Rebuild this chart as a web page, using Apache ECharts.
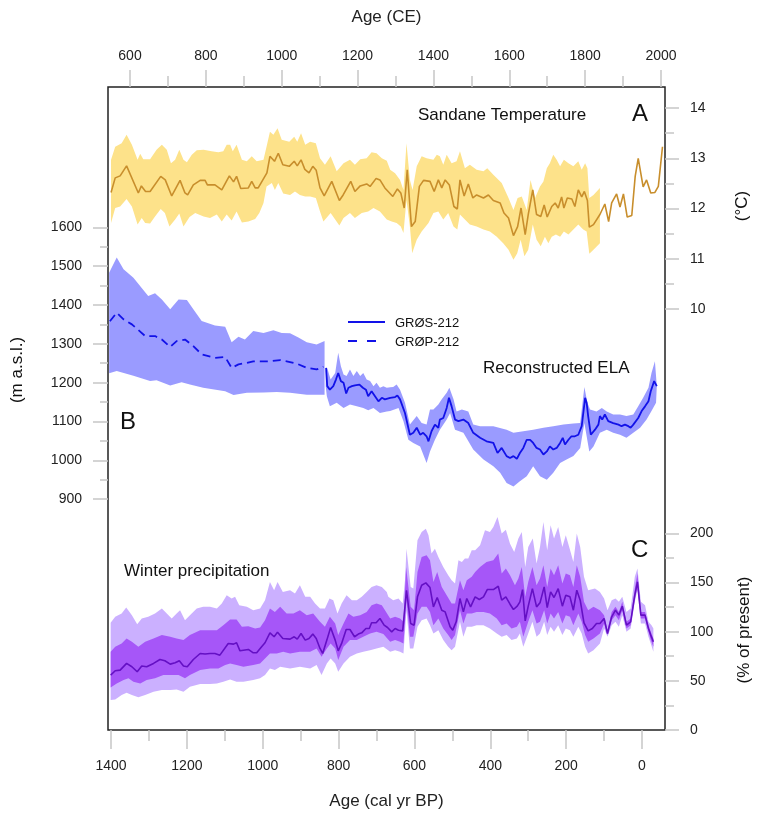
<!DOCTYPE html>
<html>
<head>
<meta charset="utf-8">
<script src="https://cdn.jsdelivr.net/npm/echarts@6.0.0/dist/echarts.min.js"></script>
<style>
  html, body { margin: 0; padding: 0; background: #fff; }
  #chart { width: 759px; height: 815px; }
</style>
</head>
<body>
<div id="chart"></div>
<script>
// ---- tick labels ----
const bpLabels = [0, 200, 400, 600, 800, 1000, 1200, 1400];
const bpMinor = [100, 300, 500, 700, 900, 1100, 1300];
const ceLabels = [600, 800, 1000, 1200, 1400, 1600, 1800, 2000];
const ceMinor = [700, 900, 1100, 1300, 1500, 1700, 1900];
const elaLabels = [900, 1000, 1100, 1200, 1300, 1400, 1500, 1600];
const elaMinor = [950, 1050, 1150, 1250, 1350, 1450, 1550];
const tempLabels = [10, 11, 12, 13, 14];
const tempMinor = [10.5, 11.5, 12.5, 13.5];
const precLabels = [0, 50, 100, 150, 200];
const precMinor = [25, 75, 125, 175];

// ---- A: Sandane temperature [age cal yr BP, °C] ----
const tempMean = [[1400,12.32],[1389,12.61],[1376,12.65],[1359,12.85],[1328,12.31],[1320,12.45],[1309,12.34],[1297,12.34],[1269,12.64],[1257,12.57],[1240,12.25],[1218,12.56],[1205,12.31],[1198,12.27],[1183,12.47],[1165,12.56],[1152,12.56],[1146,12.47],[1126,12.47],[1108,12.37],[1088,12.65],[1077,12.53],[1069,12.64],[1058,12.40],[1038,12.41],[1029,12.54],[1020,12.41],[1012,12.41],[989,12.71],[981,13.04],[969,12.94],[959,13.10],[947,12.87],[930,12.84],[917,12.94],[909,12.85],[899,12.97],[889,12.78],[878,12.71],[868,12.84],[859,12.76],[849,12.41],[838,12.25],[818,12.54],[798,12.16],[788,12.27],[768,12.54],[757,12.34],[743,12.45],[726,12.49],[717,12.44],[701,12.60],[691,12.57],[678,12.41],[657,12.24],[645,12.39],[636,12.31],[627,12.01],[619,12.77],[608,11.64],[598,11.74],[587,12.44],[576,12.56],[559,12.54],[548,12.34],[537,12.57],[528,12.41],[519,12.57],[508,12.47],[496,12.04],[487,11.99],[480,12.57],[469,12.25],[458,12.49],[446,12.21],[436,12.27],[418,12.21],[405,12.27],[392,12.16],[374,12.11],[364,11.91],[352,11.81],[339,11.46],[328,11.64],[319,12.01],[308,11.48],[300,11.88],[288,12.37],[278,11.88],[267,11.84],[258,12.07],[250,11.83],[238,12.04],[229,12.11],[221,12.01],[212,12.23],[206,12.01],[197,12.21],[185,12.19],[177,12.04],[168,12.37],[159,12.23],[152,12.34],[144,12.16],[139,11.63],[128,11.68],[111,11.88],[98,12.09],[88,11.74],[80,12.11],[67,12.29],[58,12.03],[49,12.29],[39,11.83],[27,11.86],[18,12.64],[10,13.00],[-3,12.43],[-12,12.57],[-23,12.31],[-34,12.32],[-43,12.44],[-54,13.23]];
const tempUpper = [[1400,12.97],[1389,13.23],[1372,13.30],[1359,13.47],[1345,13.27],[1330,12.97],[1323,13.09],[1315,12.98],[1297,12.98],[1280,13.17],[1266,13.27],[1253,13.17],[1242,12.90],[1231,12.97],[1220,13.17],[1209,12.97],[1200,12.92],[1187,13.07],[1174,13.16],[1156,13.17],[1135,13.14],[1117,13.12],[1104,13.14],[1095,13.27],[1086,13.27],[1079,13.14],[1069,13.27],[1055,12.97],[1042,12.94],[1029,13.04],[1016,12.94],[998,12.97],[990,13.23],[981,13.53],[972,13.47],[961,13.60],[950,13.37],[930,13.33],[917,13.43],[909,13.33],[899,13.50],[888,13.27],[875,13.33],[860,13.30],[849,13.00],[836,12.87],[821,13.04],[805,12.74],[787,12.90],[770,12.97],[757,12.87],[743,12.98],[726,13.00],[713,13.12],[700,13.10],[686,13.00],[673,12.95],[664,12.77],[651,12.70],[638,12.57],[629,12.37],[621,13.30],[612,12.57],[605,12.37],[594,12.84],[581,13.04],[568,13.00],[550,12.97],[541,13.07],[533,13.04],[524,12.87],[515,13.07],[502,12.90],[489,12.94],[480,13.14],[467,12.80],[454,12.87],[436,12.77],[418,12.74],[408,12.80],[392,12.67],[370,12.51],[352,12.21],[339,11.97],[328,12.21],[317,12.24],[304,11.97],[294,12.57],[282,12.21],[269,12.44],[260,12.54],[251,12.80],[243,12.90],[234,13.07],[225,12.97],[216,12.84],[206,12.97],[194,12.90],[181,12.84],[168,12.94],[159,12.77],[150,12.90],[144,12.80],[139,12.21],[128,12.27],[111,12.41]];
const tempLower = [[1400,11.71],[1389,12.01],[1376,12.04],[1359,12.19],[1345,12.04],[1330,11.68],[1319,11.81],[1310,11.71],[1297,11.70],[1284,11.84],[1269,11.99],[1258,11.91],[1246,11.64],[1231,11.78],[1220,11.90],[1209,11.64],[1193,11.83],[1178,11.91],[1156,11.84],[1139,11.81],[1121,11.88],[1108,11.74],[1095,11.88],[1082,11.76],[1069,11.94],[1055,11.72],[1038,11.74],[1020,11.79],[1009,11.91],[998,12.11],[990,12.44],[976,12.51],[968,12.37],[959,12.51],[946,12.30],[928,12.27],[915,12.34],[902,12.27],[888,12.24],[875,12.24],[860,12.21],[849,11.94],[840,11.74],[821,11.91],[798,11.66],[787,11.81],[770,11.91],[757,11.81],[739,11.91],[722,11.94],[708,12.01],[691,11.94],[673,11.78],[660,11.74],[647,11.71],[636,11.64],[629,11.51],[621,12.17],[612,11.64],[606,11.11],[594,11.38],[581,11.54],[563,11.71],[550,11.91],[537,11.94],[524,11.78],[511,11.91],[497,11.64],[487,11.58],[480,11.88],[467,11.78],[454,11.68],[436,11.64],[418,11.58],[401,11.54],[383,11.44],[366,11.31],[352,11.18],[339,10.98],[329,11.11],[320,11.38],[310,11.05],[300,11.18],[288,11.68],[278,11.38],[267,11.25],[256,11.44],[247,11.31],[238,11.44],[227,11.48],[216,11.44],[206,11.54],[194,11.48],[181,11.58],[168,11.68],[155,11.58],[146,11.54],[139,11.10],[128,11.18],[111,11.31]];

// ---- B: reconstructed ELA [age, m a.s.l.] ----
const grpMean = [[1403,1358],[1385,1380],[1367,1363],[1345,1350],[1310,1320],[1284,1320],[1266,1311],[1244,1292],[1227,1307],[1205,1311],[1183,1294],[1161,1273],[1126,1264],[1099,1266],[1082,1238],[1064,1247],[1042,1251],[1025,1255],[981,1255],[954,1258],[928,1253],[910,1249],[884,1238],[858,1234],[840,1241]];
const grpUpper = [[1405,1483],[1385,1522],[1367,1492],[1341,1470],[1302,1423],[1284,1430],[1266,1414],[1244,1389],[1222,1414],[1200,1413],[1183,1389],[1161,1359],[1126,1347],[1099,1344],[1082,1304],[1064,1318],[1047,1311],[1025,1333],[998,1328],[972,1335],[950,1328],[928,1327],[906,1316],[884,1304],[858,1298],[837,1307]];
const grpLower = [[1405,1224],[1385,1230],[1341,1218],[1297,1204],[1280,1206],[1244,1193],[1214,1201],[1192,1195],[1157,1187],[1099,1178],[1077,1168],[1042,1174],[998,1175],[963,1176],[928,1174],[884,1169],[837,1169]];
const grsMean = [[833,1238],[830,1191],[823,1182],[814,1191],[807,1208],[801,1225],[794,1204],[787,1200],[780,1172],[774,1187],[765,1191],[757,1193],[745,1195],[736,1187],[728,1182],[722,1165],[713,1178],[704,1165],[695,1152],[686,1161],[678,1157],[664,1161],[651,1163],[645,1167],[638,1157],[625,1122],[612,1066],[603,1071],[594,1084],[585,1066],[577,1071],[568,1062],[563,1049],[555,1075],[546,1092],[537,1084],[533,1105],[524,1109],[515,1135],[509,1161],[502,1139],[493,1105],[484,1101],[471,1105],[458,1096],[445,1071],[427,1058],[410,1049],[392,1045],[381,1019],[370,1032],[357,1011],[348,1006],[339,1011],[330,1004],[322,1019],[313,1032],[304,1053],[295,1053],[287,1045],[278,1032],[269,1028],[260,1015],[251,1023],[243,1036],[234,1028],[225,1032],[216,1045],[209,1058],[203,1041],[194,1053],[186,1062],[177,1062],[168,1066],[159,1088],[150,1161],[146,1148],[142,1114],[135,1066],[124,1079],[115,1092],[111,1114],[105,1105],[98,1118],[89,1101],[76,1096],[62,1092],[54,1088],[45,1092],[36,1088],[30,1084],[23,1092],[10,1109],[1,1127],[-8,1139],[-17,1152],[-23,1178],[-32,1204],[-39,1191]];
const grsUpper = [[834,1230],[830,1238],[821,1208],[809,1225],[801,1277],[794,1242],[787,1221],[779,1217],[770,1234],[761,1217],[752,1230],[743,1217],[735,1225],[726,1208],[717,1204],[708,1191],[700,1200],[691,1187],[682,1191],[673,1187],[664,1188],[656,1189],[647,1195],[638,1182],[625,1148],[612,1092],[594,1114],[581,1096],[568,1092],[559,1131],[550,1131],[537,1144],[528,1157],[515,1174],[508,1187],[497,1157],[489,1126],[475,1131],[458,1126],[445,1092],[427,1088],[392,1088],[357,1079],[339,1071],[313,1075],[287,1079],[260,1084],[234,1088],[207,1092],[181,1095],[163,1096],[152,1189],[144,1148],[137,1131],[120,1126],[106,1135],[93,1126],[76,1118],[58,1118],[41,1114],[23,1118],[10,1139],[-3,1161],[-17,1187],[-25,1225],[-34,1255],[-39,1191]];
const grsLower = [[834,1190],[831,1165],[823,1139],[805,1148],[787,1135],[770,1144],[752,1139],[735,1135],[722,1129],[708,1135],[691,1122],[673,1126],[664,1127],[642,1135],[629,1101],[616,1053],[603,1045],[585,1036],[568,993],[559,1023],[546,1053],[533,1079],[515,1105],[506,1122],[493,1079],[471,1071],[445,1028],[418,1002],[392,985],[374,968],[357,942],[339,933],[322,946],[304,959],[287,985],[269,959],[251,950],[234,968],[216,993],[199,1002],[181,1011],[163,1032],[152,1096],[139,1023],[128,1036],[111,1071],[93,1079],[76,1071],[58,1066],[41,1058],[23,1071],[5,1084],[-12,1105],[-25,1127],[-37,1148]];

// ---- C: winter precipitation [age, % of present] ----
const precMean = [[1401,55.8],[1389,60.2],[1376,60.9],[1359,67.7],[1345,64.3],[1331,59.2],[1319,65.0],[1306,64.3],[1288,67.7],[1271,71.7],[1258,70.4],[1244,67.0],[1231,68.4],[1220,70.4],[1209,65.0],[1199,64.3],[1183,71.7],[1165,77.8],[1152,77.2],[1139,77.8],[1126,77.8],[1113,76.1],[1091,88.0],[1077,87.3],[1069,88.7],[1060,80.5],[1038,81.9],[1025,78.5],[1016,78.5],[1003,84.6],[994,88.7],[981,98.8],[970,94.8],[961,99.5],[947,93.1],[928,92.4],[917,94.8],[909,92.4],[899,98.1],[888,91.4],[878,93.1],[868,97.5],[859,93.1],[849,82.9],[842,77.8],[831,91.4],[821,104.2],[809,91.4],[801,80.5],[792,88.0],[780,102.2],[770,102.2],[758,94.8],[748,97.5],[739,98.8],[728,103.2],[719,103.2],[713,109.0],[701,109.0],[691,113.4],[680,106.6],[671,104.2],[660,99.8],[651,103.2],[642,101.5],[631,100.8],[628,99.8],[621,142.1],[610,108.3],[601,106.6],[592,135.4],[581,147.2],[570,149.6],[559,144.8],[550,125.2],[540,134.7],[528,121.8],[519,120.1],[506,104.9],[499,101.5],[490,110.0],[480,133.7],[471,120.1],[462,133.7],[452,125.2],[440,135.4],[429,132.7],[418,135.4],[408,142.8],[392,142.8],[379,146.2],[370,132.0],[359,135.4],[348,127.9],[339,122.5],[329,125.9],[322,130.3],[315,142.8],[308,111.0],[300,125.9],[289,143.8],[278,125.2],[269,129.3],[258,145.5],[250,124.5],[241,140.4],[232,134.7],[221,143.8],[210,125.9],[201,137.1],[190,135.4],[181,121.8],[172,142.1],[163,132.0],[153,109.0],[142,100.8],[131,103.2],[120,108.3],[111,108.3],[100,113.4],[91,98.1],[80,115.1],[70,121.8],[61,116.8],[52,125.9],[41,106.6],[30,110.0],[19,137.1],[12,150.6],[3,116.8],[-8,116.8],[-17,103.2],[-23,96.5],[-30,89.7]];
const precOuterUpper = [[1401,109.0],[1389,115.1],[1372,118.4],[1360,124.5],[1345,116.8],[1331,107.6],[1319,113.4],[1302,115.1],[1284,118.4],[1266,123.5],[1253,118.4],[1240,113.4],[1227,118.4],[1218,121.8],[1205,111.7],[1192,116.8],[1174,123.5],[1157,125.2],[1139,125.2],[1121,123.5],[1108,128.6],[1095,137.1],[1082,133.7],[1073,135.4],[1062,126.9],[1042,125.2],[1025,121.8],[1007,123.5],[994,132.0],[981,150.6],[970,142.1],[961,150.6],[947,140.4],[928,142.1],[915,138.8],[902,147.2],[888,135.4],[875,135.4],[862,128.6],[849,123.5],[836,123.5],[824,133.7],[814,132.0],[803,118.4],[792,128.6],[779,137.1],[765,132.0],[752,132.0],[739,135.4],[726,140.4],[713,145.5],[700,147.2],[686,145.5],[673,140.4],[669,135.4],[656,132.0],[642,133.7],[631,128.6],[625,152.3],[621,184.4],[610,145.5],[603,143.8],[592,192.9],[581,201.4],[570,204.7],[563,198.0],[555,179.4],[546,184.4],[537,176.0],[524,165.8],[511,157.4],[502,152.3],[493,148.9],[484,172.6],[475,170.9],[467,174.3],[458,174.3],[449,182.7],[440,182.7],[427,187.8],[414,203.0],[401,201.4],[392,206.4],[381,216.6],[370,199.7],[359,203.7],[348,189.5],[337,181.0],[326,194.6],[317,201.4],[308,165.8],[300,186.1],[288,194.6],[278,169.2],[269,186.1],[260,211.5],[250,182.7],[241,208.1],[232,194.6],[221,206.4],[210,186.1],[201,198.0],[192,186.1],[181,170.9],[172,199.7],[163,186.1],[153,155.7],[142,142.1],[124,143.8],[111,140.4],[100,133.7],[91,121.8],[80,132.0],[70,133.7],[61,130.3],[52,135.4],[41,120.1],[30,123.5],[19,155.7],[12,164.1],[3,130.3],[-8,126.9],[-17,110.0],[-25,106.6],[-30,103.2]];
const precOuterLower = [[1401,30.5],[1389,31.1],[1372,35.5],[1359,37.9],[1345,35.5],[1328,33.2],[1310,35.5],[1288,38.9],[1266,40.6],[1244,40.6],[1227,41.3],[1209,38.9],[1192,44.0],[1165,46.7],[1139,46.7],[1121,47.4],[1104,49.1],[1086,51.4],[1069,49.1],[1051,49.1],[1025,50.8],[1007,52.5],[994,55.8],[981,62.6],[968,60.9],[954,64.3],[928,62.6],[902,64.3],[875,62.6],[858,66.0],[845,55.8],[831,67.7],[821,72.8],[809,67.7],[801,59.2],[787,67.7],[770,74.5],[752,77.8],[735,79.5],[717,81.2],[700,82.9],[682,84.6],[664,79.5],[651,81.2],[638,79.5],[629,77.8],[621,121.8],[612,82.9],[603,82.9],[592,104.9],[581,111.7],[568,113.4],[559,106.6],[550,98.1],[537,101.5],[524,91.4],[511,84.6],[502,81.2],[493,84.6],[480,110.0],[471,94.8],[462,104.9],[449,104.9],[436,106.6],[418,106.6],[401,103.2],[383,98.1],[370,94.8],[357,96.5],[344,91.4],[330,93.1],[322,98.1],[313,84.6],[300,98.1],[289,110.0],[278,94.8],[269,98.1],[258,110.0],[250,96.5],[241,104.9],[232,99.8],[221,106.6],[210,96.5],[201,103.2],[190,101.5],[181,94.8],[168,104.9],[159,98.1],[150,84.6],[142,77.8],[128,81.2],[111,88.0],[100,103.2],[91,94.8],[80,106.6],[70,110.0],[61,104.9],[52,116.8],[41,99.8],[30,103.2],[19,130.3],[12,142.1],[3,108.3],[-8,108.3],[-17,94.8],[-23,88.0],[-30,79.5]];
const precInnerUpper = [[1401,79.5],[1389,84.6],[1372,88.0],[1359,93.1],[1345,89.7],[1328,84.6],[1310,89.7],[1288,93.1],[1266,96.5],[1244,94.8],[1227,93.1],[1209,91.4],[1192,96.5],[1165,101.5],[1139,101.5],[1121,101.5],[1104,106.6],[1086,112.4],[1069,112.4],[1055,104.9],[1038,105.6],[1020,103.2],[1007,104.2],[994,111.7],[981,123.5],[968,120.1],[954,125.2],[937,118.4],[919,118.4],[902,121.8],[884,116.8],[867,118.4],[849,110.0],[836,104.9],[823,115.1],[809,108.3],[801,96.5],[787,108.3],[774,118.4],[761,115.1],[743,116.8],[726,120.1],[713,126.9],[700,128.6],[686,126.9],[664,113.4],[651,115.1],[638,113.4],[629,110.0],[622,165.8],[610,125.2],[601,121.8],[592,160.7],[581,176.0],[568,177.7],[559,172.6],[550,150.6],[540,160.7],[528,145.5],[515,137.1],[502,128.6],[493,128.6],[480,152.3],[471,142.1],[462,152.3],[449,155.7],[440,160.7],[427,165.8],[410,170.9],[392,172.6],[379,179.4],[370,159.1],[359,164.1],[348,157.4],[335,147.2],[326,154.0],[317,165.8],[308,135.4],[300,150.6],[289,165.8],[278,147.2],[269,154.0],[260,167.5],[250,145.5],[241,164.1],[232,157.4],[221,167.5],[210,148.9],[201,159.1],[190,157.4],[181,145.5],[172,167.5],[163,155.7],[153,130.3],[142,121.8],[128,125.2],[111,121.8],[100,116.8],[91,101.5],[80,120.1],[70,125.2],[61,120.1],[52,130.3],[41,110.0],[30,113.4],[19,143.8],[12,159.1],[3,120.1],[-8,120.1],[-17,106.6],[-23,99.8],[-30,93.1]];
const precInnerLower = [[1401,43.3],[1385,47.4],[1367,50.8],[1354,52.5],[1341,49.1],[1323,47.4],[1306,50.8],[1284,52.5],[1262,55.8],[1240,55.8],[1222,55.8],[1205,52.5],[1192,55.8],[1165,60.9],[1139,62.6],[1117,62.6],[1099,66.0],[1086,67.7],[1069,66.0],[1051,64.3],[1025,66.0],[1007,67.7],[994,72.8],[981,77.8],[963,77.8],[946,79.5],[928,77.8],[902,79.5],[875,79.5],[858,82.9],[845,74.5],[831,82.9],[821,88.0],[809,82.9],[801,71.1],[787,84.6],[770,91.4],[752,91.4],[735,94.8],[717,98.1],[700,99.8],[682,97.5],[664,89.7],[651,91.4],[638,89.7],[629,88.0],[621,132.0],[612,94.8],[603,94.8],[592,118.4],[581,125.2],[568,125.2],[559,120.1],[550,106.6],[537,113.4],[524,103.2],[511,96.5],[502,91.4],[493,96.5],[480,121.8],[471,108.3],[462,118.4],[449,118.4],[436,120.1],[418,120.1],[401,118.4],[383,113.4],[370,106.6],[357,108.3],[344,103.2],[330,104.9],[322,110.0],[313,94.8],[300,110.0],[289,121.8],[278,108.3],[269,110.0],[258,121.8],[250,108.3],[241,118.4],[232,113.4],[221,120.1],[210,108.3],[201,116.8],[190,115.1],[181,106.6],[168,118.4],[159,110.0],[150,96.5],[142,89.7],[128,93.1],[111,98.1],[100,108.3],[91,96.5],[80,111.7],[70,116.8],[61,111.7],[52,121.8],[41,103.2],[30,106.6],[19,133.7],[12,145.5],[3,113.4],[-8,113.4],[-17,99.8],[-23,91.4],[-30,84.6]];

const FF = '"Liberation Sans", Arial, Helvetica, sans-serif';
const tickColor = '#c6c6c6';
const textColor = '#222';

// CE labels live on the BP scale (BP = 1950 - CE)
const toBP = ce => 1950 - ce;

function axisX(pos, values, len, fmt, extra) {
  return Object.assign({
    type: 'value', position: pos, min: -60.6, max: 1408, inverse: true,
    axisLine: { show: false, onZero: false }, splitLine: { show: false },
    axisTick: { customValues: values, length: len, lineStyle: { color: tickColor, width: 1.5 } },
    axisLabel: fmt ? { customValues: values, formatter: fmt, margin: pos === 'top' ? 24 : 29,
                       fontSize: 14, color: textColor, fontFamily: FF }
                   : { show: false }
  }, extra || {});
}

function axisY(pos, min, max, values, len, labels) {
  return {
    type: 'value', position: pos, min: min, max: max,
    axisLine: { show: false, onZero: false }, splitLine: { show: false },
    axisTick: { customValues: values, length: len, lineStyle: { color: tickColor, width: 1.5 } },
    axisLabel: labels ? { customValues: values, formatter: v => String(v), margin: pos === 'left' ? 26 : 25,
                          fontSize: 14, color: textColor, fontFamily: FF }
                      : { show: false }
  };
}

// band drawn as a polygon through the chart's own scales
function bandSeries(upper, lower, color, yIndex) {
  return {
    type: 'custom', coordinateSystem: 'cartesian2d', xAxisIndex: 0, yAxisIndex: yIndex,
    silent: true, data: [upper[0]],
    renderItem: function (params, api) {
      const pts = upper.concat(lower.slice().reverse()).map(p => api.coord(p));
      return { type: 'polygon', shape: { points: pts }, style: { fill: color } };
    }
  };
}

function lineSeries(data, color, width, yIndex, dash) {
  return {
    type: 'line', xAxisIndex: 0, yAxisIndex: yIndex, data: data,
    showSymbol: false, symbol: 'none', silent: true,
    lineStyle: { color: color, width: width, type: dash || 'solid' }
  };
}

function label(text, x, y, size, rot) {
  return {
    type: 'text', x: x, y: y, rotation: rot || 0, silent: true,
    style: { text: text, font: size + 'px ' + FF, fill: '#111',
             align: rot ? 'center' : 'left', verticalAlign: 'middle',
             textAlign: rot ? 'center' : 'left', textVerticalAlign: 'middle' }
  };
}

const chart = echarts.init(document.getElementById('chart'));
chart.setOption({
  animation: false,
  backgroundColor: '#fff',
  grid: { left: 108, right: 94, top: 87, bottom: 85, show: true, borderColor: '#222', borderWidth: 1.5,
          containLabel: false, outerBoundsMode: 'none' },
  xAxis: [
    axisX('bottom', bpLabels, 19, v => String(v), {
      name: 'Age (cal yr BP)', nameLocation: 'middle', nameGap: 63,
      nameTextStyle: { fontSize: 17, color: textColor, fontFamily: FF }
    }),
    axisX('bottom', bpMinor, 11, null),
    axisX('top', ceLabels.map(toBP), 17, v => String(Math.round(1950 - v)), {
      name: 'Age (CE)', nameLocation: 'middle', nameGap: 61,
      nameTextStyle: { fontSize: 17, color: textColor, fontFamily: FF }
    }),
    axisX('top', ceMinor.map(toBP), 11, null)
  ],
  yAxis: [
    axisY('left', 306, 1961, elaLabels, 15, true),
    axisY('left', 306, 1961, elaMinor, 8, false),
    axisY('right', 1.614, 14.42, tempLabels, 14, true),
    axisY('right', 1.614, 14.42, tempMinor, 9, false),
    axisY('right', 0, 653.8, precLabels, 14, true),
    axisY('right', 0, 653.8, precMinor, 9, false)
  ],
  series: [
    bandSeries(tempUpper, tempLower, '#fde28a', 2),
    lineSeries(tempMean, '#c88e2c', 1.6, 2),
    bandSeries(grpUpper, grpLower, '#9a9bff', 0),
    bandSeries(grsUpper, grsLower, '#9a9bff', 0),
    lineSeries(grpMean, '#1212e8', 1.8, 0, [8, 5]),
    lineSeries(grsMean, '#1212e8', 1.8, 0),
    bandSeries(precOuterUpper, precOuterLower, '#cbb0ff', 4),
    bandSeries(precInnerUpper, precInnerLower, '#a656f8', 4),
    lineSeries(precMean, '#6410c4', 1.6, 4)
  ],
  graphic: [
    label('Sandane Temperature', 418, 115, 17),
    label('A', 632, 114, 24),
    label('Reconstructed ELA', 483, 368, 17),
    label('B', 120, 422, 24),
    label('Winter precipitation', 124, 571, 17),
    label('C', 631, 550, 24),
    label('(m a.s.l.)', 17, 370, 17, Math.PI / 2),
    label('(°C)', 742, 206, 17, Math.PI / 2),
    label('(% of present)', 744, 630, 17, Math.PI / 2),
    { type: 'line', silent: true, shape: { x1: 348, y1: 322, x2: 385, y2: 322 },
      style: { stroke: '#1212e8', lineWidth: 2 } },
    { type: 'line', silent: true, shape: { x1: 348, y1: 341, x2: 385, y2: 341 },
      style: { stroke: '#1212e8', lineWidth: 2, lineDash: [9, 10] } },
    label('GRØS-212', 395, 323, 13),
    label('GRØP-212', 395, 342, 13)
  ]
});
</script>
</body>
</html>
